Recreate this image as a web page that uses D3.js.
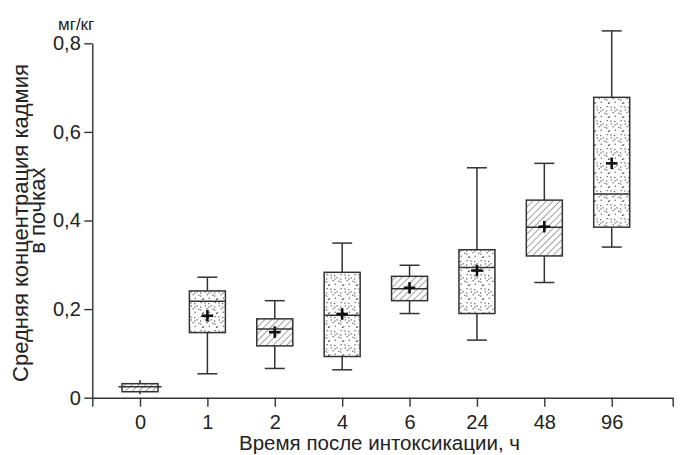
<!DOCTYPE html>
<html><head><meta charset="utf-8">
<script src="https://cdn.jsdelivr.net/npm/d3@7/dist/d3.min.js"></script>
<style>
html,body{margin:0;padding:0;background:#fff;}
svg text{font-family:"Liberation Sans",Arial,sans-serif;fill:#222;}
</style></head>
<body>
<svg id="chart" width="681" height="455"></svg>
<script>
const categories = ["0","1","2","4","6","24","48","96"];
const whiskerLow  = [0.008, 0.054, 0.066, 0.063, 0.190, 0.130, 0.260, 0.340];
const q1          = [0.0135,0.147, 0.117, 0.093, 0.219, 0.190, 0.320, 0.385];
const median      = [0.025, 0.218, 0.155, 0.186, 0.246, 0.294, 0.385, 0.460];
const q3          = [0.0316,0.241, 0.178, 0.283, 0.274, 0.334, 0.446, 0.678];
const whiskerHigh = [0.040, 0.272, 0.219, 0.349, 0.299, 0.519, 0.529, 0.828];
const mean        = [0.025, 0.185, 0.148, 0.189, 0.248, 0.287, 0.386, 0.529];
const fillType    = ["hatch","dots","hatch","dots","hatch","dots","hatch","dots"];
const yTicks = [0, 0.2, 0.4, 0.6, 0.8];
const yUnit = "мг/кг";
const yTitle1 = "Средняя концентрация кадмия";
const yTitle2 = "в почках";
const xTitle = "Время после интоксикации, ч";

const svg = d3.select("#chart");
const ink = "#333";

const y = d3.scaleLinear().domain([0, 0.8]).range([397.7, 43.3]);
const x = d3.scaleLinear().domain([-0.708, 7.905]).range([92.3, 672.7]);

// patterns
const defs = svg.append("defs");
const hatch = defs.append("pattern").attr("id","hatch").attr("patternUnits","userSpaceOnUse")
  .attr("width",4.8).attr("height",4.8).attr("patternTransform","rotate(45)");
hatch.append("rect").attr("width",4.8).attr("height",4.8).attr("fill","#fff");
hatch.append("line").attr("x1",0).attr("y1",0).attr("x2",0).attr("y2",4.8)
  .attr("stroke","#444").attr("stroke-width",1);
const tile = 14, cell = 3.5;
const dots = defs.append("pattern").attr("id","dots").attr("patternUnits","userSpaceOnUse")
  .attr("width",tile).attr("height",tile);
dots.append("rect").attr("width",tile).attr("height",tile).attr("fill","#fff");
let seed = 11;
function rnd(){ seed = (seed*9301+49297)%233280; return seed/233280; }
for(let gx0=0; gx0<tile; gx0+=cell){
  for(let gy0=0; gy0<tile; gy0+=cell){
    if(rnd() < 0.25) continue;
    dots.append("rect").attr("x",(gx0+rnd()*(cell-1)).toFixed(1)).attr("y",(gy0+rnd()*(cell-1)).toFixed(1))
      .attr("width",1.1).attr("height",1.1).attr("fill","#333");
  }
}

// axes
const yAxis = d3.axisLeft(y).tickValues(yTicks).tickSize(8).tickSizeOuter(0).tickPadding(3.5)
  .tickFormat(d => d === 0 ? "0" : d3.format(".1f")(d).replace(".", ","));
const gy = svg.append("g").attr("transform",`translate(${x.range()[0]},0)`).call(yAxis);
gy.selectAll("text").attr("font-size",20).style("fill","#222");

const xAxis = d3.axisBottom(x).tickValues(d3.range(categories.length)).tickSize(9).tickSizeOuter(9)
  .tickPadding(8.3).tickFormat(i => categories[i]);
const gx = svg.append("g").attr("transform",`translate(0,${y(0)})`).call(xAxis);
gx.selectAll("text").attr("font-size",20).style("fill","#222");
[gx, gy].forEach(g => {
  g.selectAll("path,line").attr("stroke", ink).attr("stroke-width",1.4);
});

// titles
svg.append("text").attr("x",58).attr("y",30).attr("font-size",17).text(yUnit);
svg.append("text").attr("transform","translate(28.3,223) rotate(-90)").attr("text-anchor","middle")
  .attr("font-size",22).text(yTitle1);
svg.append("text").attr("transform","translate(45,210.7) rotate(-90)").attr("text-anchor","middle")
  .attr("font-size",22).text(yTitle2);
svg.append("text").attr("x",379.5).attr("y",450).attr("text-anchor","middle")
  .attr("font-size",20.5).text(xTitle);

// boxes
const boxW = 36, capW = 20, plus = 5.8;
const data = categories.map((c,i)=>({i, lo:whiskerLow[i], q1:q1[i], med:median[i], q3:q3[i], hi:whiskerHigh[i], mean:mean[i], fill:fillType[i]}));
const g = svg.append("g");
data.forEach(d => {
  const cx = x(d.i);
  const small = y(d.q1) - y(d.q3) < 10;
  const bg = g.append("g").attr("stroke", ink).attr("stroke-width",1.5);
  bg.append("line").attr("x1",cx).attr("x2",cx).attr("y1",y(d.hi)).attr("y2",y(d.q3));
  bg.append("line").attr("x1",cx).attr("x2",cx).attr("y1",y(d.q1)).attr("y2",y(d.lo));
  if(!small){
    bg.append("line").attr("x1",cx-capW/2).attr("x2",cx+capW/2).attr("y1",y(d.hi)).attr("y2",y(d.hi));
    bg.append("line").attr("x1",cx-capW/2).attr("x2",cx+capW/2).attr("y1",y(d.lo)).attr("y2",y(d.lo));
  }
  bg.append("rect").attr("x",cx-boxW/2).attr("width",boxW).attr("y",y(d.q3)).attr("height",y(d.q1)-y(d.q3))
    .attr("fill",`url(#${d.fill})`);
  const mw = small ? 43 : boxW;
  bg.append("line").attr("x1",cx-mw/2).attr("x2",cx+mw/2).attr("y1",y(d.med)).attr("y2",y(d.med));
  if(!small){
    const my = y(d.mean);
    const pg = g.append("g").attr("stroke","#111").attr("stroke-width",2.6);
    pg.append("line").attr("x1",cx-plus).attr("x2",cx+plus).attr("y1",my).attr("y2",my);
    pg.append("line").attr("x1",cx).attr("x2",cx).attr("y1",my-plus).attr("y2",my+plus);
  }
});
</script>
</body></html>
